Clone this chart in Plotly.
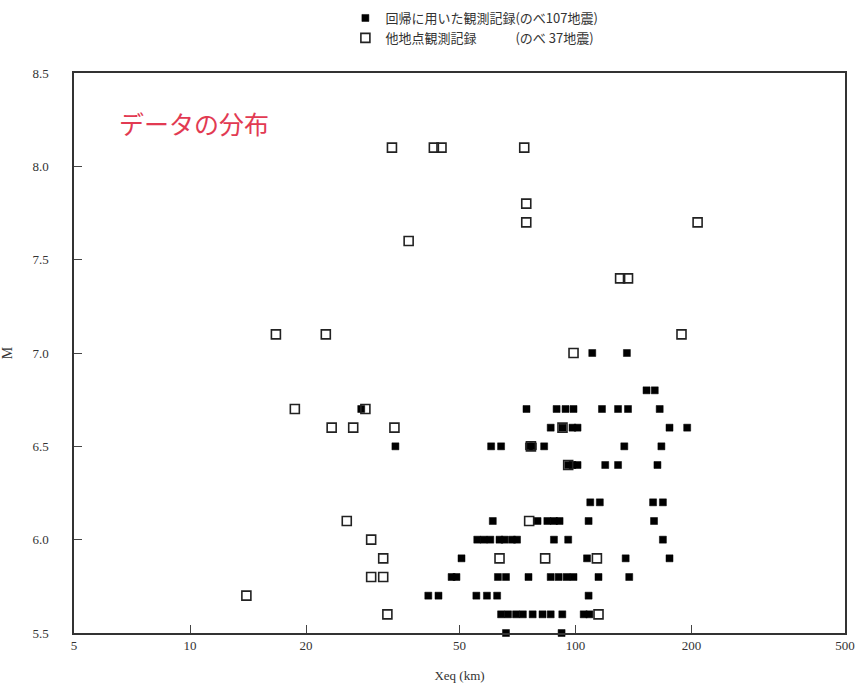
import plotly.graph_objects as go

# 回帰に用いた観測記録 (filled squares): distance Xeq (km), magnitude M
reg_x = [110.5, 135.9,
         152.8, 160.5,
         27.8, 74.6, 89.3, 94.2, 98.8, 117.1, 128.9, 136.8, 165.3,
         86.2, 92.5, 98.2, 101.2, 175.3, 194.8,
         34.1, 60.4, 64.1, 75.7, 77.5, 82.9, 133.8, 167.0,
         95.7, 98.2, 101.2, 119.4, 128.9, 163.1,
         109.2, 115.6, 158.9, 168.5,
         61.0, 79.7, 84.5, 87.9, 90.9, 108.1, 159.8,
         55.6, 57.8, 60.1, 63.5, 65.4, 68.4, 70.5, 87.9, 95.7, 168.5,
         50.6, 107.1, 134.9, 175.3,
         47.7, 49.1, 62.9, 66.0, 75.5, 86.2, 90.4, 94.8, 98.8, 114.7, 137.8,
         41.5, 44.1, 55.3, 58.9, 62.6, 108.1,
         64.1, 66.8, 70.1, 73.0, 77.4, 82.1, 86.2, 92.4, 105.0, 108.6,
         66.0, 92.0]
reg_m = [7.0, 7.0,
         6.8, 6.8,
         6.7, 6.7, 6.7, 6.7, 6.7, 6.7, 6.7, 6.7, 6.7,
         6.6, 6.6, 6.6, 6.6, 6.6, 6.6,
         6.5, 6.5, 6.5, 6.5, 6.5, 6.5, 6.5, 6.5,
         6.4, 6.4, 6.4, 6.4, 6.4, 6.4,
         6.2, 6.2, 6.2, 6.2,
         6.1, 6.1, 6.1, 6.1, 6.1, 6.1, 6.1,
         6.0, 6.0, 6.0, 6.0, 6.0, 6.0, 6.0, 6.0, 6.0, 6.0,
         5.9, 5.9, 5.9, 5.9,
         5.8, 5.8, 5.8, 5.8, 5.8, 5.8, 5.8, 5.8, 5.8, 5.8, 5.8,
         5.7, 5.7, 5.7, 5.7, 5.7, 5.7,
         5.6, 5.6, 5.6, 5.6, 5.6, 5.6, 5.6, 5.6, 5.6, 5.6,
         5.5, 5.5]

# 他地点観測記録 (open squares)
oth_x = [33.4, 42.9, 44.9, 73.6,
         74.5, 74.5, 207.3, 36.9,
         130.5, 136.8,
         16.7, 22.5, 188.3, 98.8,
         18.7, 28.5,
         23.3, 26.5, 33.9, 92.5,
         76.6, 95.7,
         25.5, 75.8, 29.5,
         31.7, 63.5, 83.4, 113.6,
         29.5, 31.7, 14.0,
         32.5, 114.7, 27.7]
oth_m = [8.1, 8.1, 8.1, 8.1,
         7.8, 7.7, 7.7, 7.6,
         7.4, 7.4,
         7.1, 7.1, 7.1, 7.0,
         6.7, 6.7,
         6.6, 6.6, 6.6, 6.6,
         6.5, 6.4,
         6.1, 6.1, 6.0,
         5.9, 5.9, 5.9, 5.9,
         5.8, 5.8, 5.7,
         5.6, 5.6, 5.4]

x_ticks = [5, 10, 20, 50, 100, 200, 500]
y_ticks = [5.5, 6.0, 6.5, 7.0, 7.5, 8.0, 8.5]

serif = "Liberation Serif, DejaVu Serif, serif"
cjk = "Noto Sans CJK JP, Noto Sans CJK SC, sans-serif"

fig = go.Figure()
fig.add_trace(go.Scatter(
    x=reg_x, y=reg_m, mode="markers",
    name="回帰に用いた観測記録(のべ107地震)",
    marker=dict(symbol="square", size=7, color="black",
                line=dict(width=0.5, color="black")),
    cliponaxis=False,
))
fig.add_trace(go.Scatter(
    x=oth_x, y=oth_m, mode="markers",
    name="他地点観測記録　　　(のべ 37地震)",
    marker=dict(symbol="square-open", size=9, color="#222222",
                line=dict(width=1.6)),
    cliponaxis=False,
))

fig.update_layout(
    width=859, height=688,
    margin=dict(l=74, r=14, t=73, b=55, autoexpand=False),
    paper_bgcolor="white", plot_bgcolor="white",
    showlegend=True,
    legend=dict(x=0.352, y=1.125, xanchor="left", yanchor="top",
                font=dict(family=cjk, size=13, color="#333333"),
                bgcolor="rgba(0,0,0,0)", tracegroupgap=0,
                itemwidth=30),
    xaxis=dict(type="log", range=[0.69897, 2.69897], automargin=False,
               tickvals=x_ticks, ticktext=[str(v) for v in x_ticks],
               ticks="inside", ticklen=8, tickwidth=1, tickcolor="#444",
               showline=True, linecolor="#333", linewidth=1.5, mirror=True,
               showgrid=False, zeroline=False,
               tickfont=dict(family=serif, size=13, color="#333"),
               title=dict(text="Xeq (km)", standoff=19,
                          font=dict(family=serif, size=13, color="#333"))),
    yaxis=dict(range=[5.5, 8.5], automargin=False,
               tickvals=y_ticks, ticktext=[f"{v:.1f}" for v in y_ticks],
               ticks="inside", ticklen=8, tickwidth=1, tickcolor="#444",
               showline=True, linecolor="#333", linewidth=1.5, mirror=True,
               showgrid=False, zeroline=False, ticklabelstandoff=21,
               tickfont=dict(family=serif, size=13, color="#333"),
               title=dict(text="M", standoff=19,
                          font=dict(family=serif, size=14, color="#333"))),
    annotations=[dict(text="データの分布", xref="paper", yref="paper",
                      x=0.056, y=0.911, xanchor="left", yanchor="middle",
                      showarrow=False,
                      font=dict(family=cjk, size=25, color="#e23a52"))],
)

fig.write_html("out.html", config={"displayModeBar": False},
               post_script="document.body.style.margin='0';")
